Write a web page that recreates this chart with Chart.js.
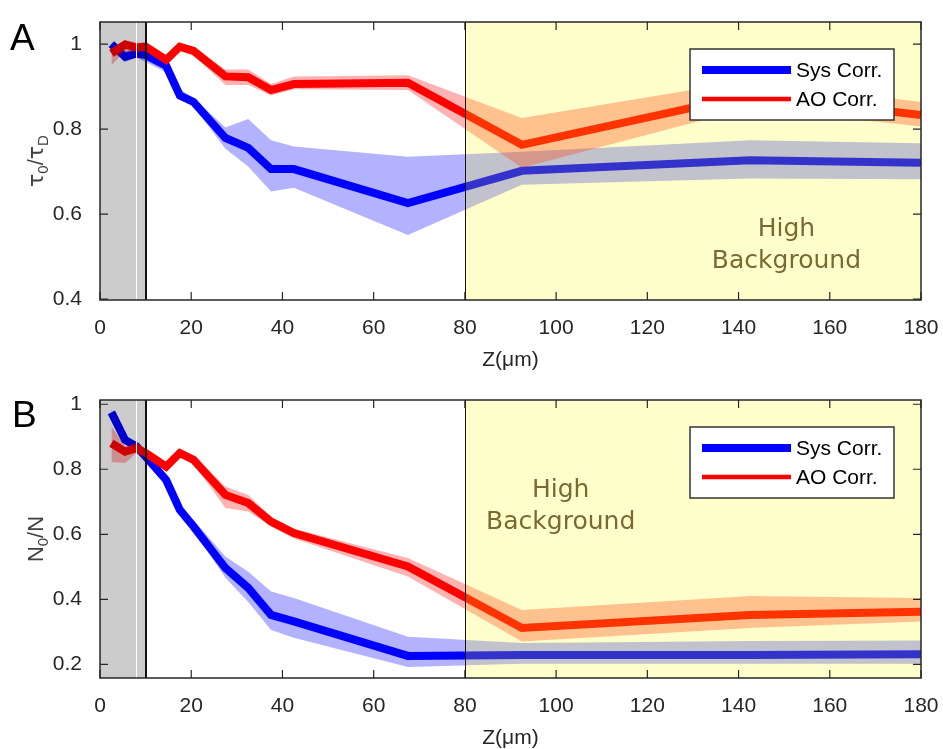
<!DOCTYPE html>
<html><head><meta charset="utf-8">
<script src="https://cdn.jsdelivr.net/npm/chart.js@4.4.1/dist/chart.umd.min.js"></script>
<style>
html,body{margin:0;padding:0;background:#fff;width:943px;height:749px;overflow:hidden}
.panel{position:absolute;left:0;width:943px}
#pA{top:0;height:375px}
#pB{top:375px;height:374px}
</style></head><body>
<div class="panel" id="pA"><canvas id="cA"></canvas></div>
<div class="panel" id="pB"><canvas id="cB"></canvas></div>
<script>
// ---- data ----
const depths = [2.5, 5.5, 8, 10, 14.5, 17.5, 20.5, 27.5, 32.5, 37.5, 42.5, 67.5, 92.5, 142.5, 180];

const sysA    = [1.0, 0.97, 0.978, 0.974, 0.949, 0.879, 0.864, 0.779, 0.756, 0.706, 0.706, 0.626, 0.702, 0.727, 0.721];
const sysAHi  = [1.005, 0.984, 0.989, 0.984, 0.96, 0.894, 0.874, 0.804, 0.824, 0.774, 0.759, 0.735, 0.747, 0.774, 0.767];
const sysALo  = [0.99, 0.958, 0.968, 0.958, 0.934, 0.869, 0.854, 0.754, 0.712, 0.653, 0.662, 0.551, 0.669, 0.684, 0.682];
const aoA     = [0.978, 0.999, 0.992, 0.994, 0.963, 0.994, 0.984, 0.924, 0.922, 0.892, 0.906, 0.909, 0.763, 0.88, 0.833];
const aoAHi   = [0.99, 1.01, 1.004, 1.004, 0.974, 1.0, 0.994, 0.94, 0.94, 0.906, 0.924, 0.927, 0.826, 0.915, 0.864];
const aoALo   = [0.95, 0.984, 0.98, 0.984, 0.954, 0.984, 0.974, 0.904, 0.904, 0.879, 0.894, 0.892, 0.709, 0.85, 0.806];

const sysB    = [0.975, 0.89, 0.87, 0.839, 0.767, 0.675, 0.624, 0.496, 0.435, 0.352, 0.332, 0.226, 0.229, 0.229, 0.231];
const sysBHi  = [0.985, 0.902, 0.882, 0.852, 0.777, 0.687, 0.644, 0.532, 0.485, 0.424, 0.404, 0.285, 0.266, 0.272, 0.273];
const sysBLo  = [0.96, 0.877, 0.862, 0.827, 0.757, 0.662, 0.612, 0.466, 0.392, 0.306, 0.282, 0.192, 0.202, 0.202, 0.202];
const aoB     = [0.88, 0.854, 0.865, 0.85, 0.808, 0.85, 0.829, 0.721, 0.696, 0.639, 0.604, 0.501, 0.312, 0.352, 0.362];
const aoBHi   = [0.932, 0.87, 0.885, 0.862, 0.822, 0.862, 0.842, 0.747, 0.721, 0.654, 0.617, 0.527, 0.367, 0.41, 0.404];
const aoBLo   = [0.822, 0.819, 0.85, 0.837, 0.792, 0.837, 0.817, 0.681, 0.67, 0.624, 0.587, 0.47, 0.27, 0.312, 0.332];

const xTicks = [0, 20, 40, 60, 80, 100, 120, 140, 160, 180];
const yTicksA = [0.4, 0.6, 0.8, 1];
const yTickLabelsA = ['0.4', '0.6', '0.8', '1'];
const yTicksB = [0.2, 0.4, 0.6, 0.8, 1];
const yTickLabelsB = ['0.2', '0.4', '0.6', '0.8', '1'];

const seriesLabels = ['Sys Corr.', 'AO Corr.'];
const xTitle = 'Z(\u03BCm)';
const shadeRange = [0, 10];      // low-depth grey region
const whiteMark = 8;
const highBgRange = [80, 180];   // high background region
const highBgText = ['High', 'Background'];

// ---- helpers ----
const pts = (ys) => depths.map((x, i) => ({x, y: ys[i]}));
const TICK_FONT = {family: "'Liberation Sans', Arial, sans-serif", size: 21};
const AX = '#262626';

function makeDatasets(sys, sysHi, sysLo, ao, aoHi, aoLo) {
  const base = {pointRadius: 0, tension: 0, showLine: true};
  return [
    {...base, data: pts(sysHi), borderWidth: 0, fill: '+1', backgroundColor: 'rgba(0,0,255,0.30)', order: 6},
    {...base, data: pts(sysLo), borderWidth: 0, fill: false, order: 6},
    {...base, label: seriesLabels[0], data: pts(sys), borderColor: '#0000ff', borderWidth: 8, fill: false, order: 5, borderJoinStyle: 'miter', legend: true},
    {...base, data: pts(aoHi), borderWidth: 0, fill: '+1', backgroundColor: 'rgba(255,0,0,0.30)', order: 4},
    {...base, data: pts(aoLo), borderWidth: 0, fill: false, order: 4},
    {...base, label: seriesLabels[1], data: pts(ao), borderColor: '#ff0000', borderWidth: 8, fill: false, order: 3, borderJoinStyle: 'miter', legend: true}
  ];
}

const decor = {
  id: 'decor',
  afterDatasetsDraw(chart, args, o) {
    const {ctx, chartArea: a, scales: {x, y}} = chart;
    ctx.save();
    ctx.beginPath(); ctx.rect(a.left, a.top, a.right - a.left, a.bottom - a.top); ctx.clip();
    let x0 = x.getPixelForValue(shadeRange[0]), x1 = x.getPixelForValue(shadeRange[1]);
    ctx.fillStyle = 'rgba(0,0,0,0.2)';
    ctx.fillRect(x0, a.top, x1 - x0, a.bottom - a.top);
    x0 = x.getPixelForValue(highBgRange[0]); x1 = x.getPixelForValue(highBgRange[1]);
    ctx.fillStyle = 'rgba(255,255,0,0.2)';
    ctx.fillRect(x0, a.top, x1 - x0, a.bottom - a.top);
    const vline = (v, col, w) => {
      const px = Math.round(x.getPixelForValue(v)) + (w % 2 ? 0.5 : 0);
      ctx.strokeStyle = col; ctx.lineWidth = w;
      ctx.beginPath(); ctx.moveTo(px, a.top); ctx.lineTo(px, a.bottom); ctx.stroke();
    };
    vline(whiteMark, '#ffffff', 1);
    vline(shadeRange[1], '#111111', 2);
    vline(highBgRange[0], '#111111', 1);
    ctx.fillStyle = '#7a6930';
    ctx.font = "25px 'DejaVu Sans', sans-serif";
    ctx.textAlign = 'center'; ctx.textBaseline = 'middle';
    const tx = x.getPixelForValue(o.textX);
    ctx.fillText(highBgText[0], tx, y.getPixelForValue(o.textY[0]));
    ctx.fillText(highBgText[1], tx, y.getPixelForValue(o.textY[1]));
    ctx.restore();
  },
  afterDraw(chart, args, o) {
    const {ctx, chartArea: a, scales: {x, y}} = chart;
    ctx.save();
    ctx.strokeStyle = AX; ctx.lineWidth = 1.5;
    ctx.strokeRect(a.left, a.top, a.right - a.left, a.bottom - a.top);
    const tl = 8;
    ctx.lineWidth = 1.2;
    ctx.beginPath();
    x.ticks.forEach(t => {
      const px = x.getPixelForValue(t.value);
      ctx.moveTo(px, a.bottom); ctx.lineTo(px, a.bottom - tl);
      ctx.moveTo(px, a.top); ctx.lineTo(px, a.top + tl);
    });
    y.ticks.forEach(t => {
      const py = y.getPixelForValue(t.value);
      ctx.moveTo(a.left, py); ctx.lineTo(a.left + tl, py);
      ctx.moveTo(a.right, py); ctx.lineTo(a.right - tl, py);
    });
    ctx.stroke();
    // legend
    const lw = 204, lh = 71;
    const lx = a.right - 27 - lw, ly = a.top + 27;
    ctx.fillStyle = '#ffffff';
    ctx.fillRect(lx, ly, lw, lh);
    ctx.strokeStyle = '#333333'; ctx.lineWidth = 1.5;
    ctx.strokeRect(lx, ly, lw, lh);
    const items = chart.data.datasets.filter(d => d.legend);
    const widths = [8, 4.5];
    ctx.font = "21px 'Liberation Sans', Arial, sans-serif";
    ctx.textAlign = 'left'; ctx.textBaseline = 'middle';
    items.forEach((d, i) => {
      const yy = ly + 21 + i * 29;
      ctx.strokeStyle = d.borderColor; ctx.lineWidth = widths[i];
      ctx.beginPath(); ctx.moveTo(lx + 12, yy); ctx.lineTo(lx + 101, yy); ctx.stroke();
      ctx.fillStyle = '#000';
      ctx.fillText(d.label, lx + 106, yy + 1);
    });
    // y axis label with subscripts
    const cy = (a.top + a.bottom) / 2;
    ctx.translate(o.yLabelX, cy);
    ctx.rotate(-Math.PI / 2);
    ctx.fillStyle = '#404040'; ctx.textBaseline = 'alphabetic'; ctx.textAlign = 'left';
    let total = 0;
    o.yLabel.forEach(p => { ctx.font = p.f; p.w = ctx.measureText(p.t).width; total += p.w; });
    let cx = -total / 2;
    o.yLabel.forEach(p => { ctx.font = p.f; ctx.fillText(p.t, cx, 8 + (p.dy || 0)); cx += p.w; });
    ctx.restore();
    ctx.save();
    ctx.fillStyle = '#000';
    ctx.font = "37px 'Liberation Sans', Arial, sans-serif";
    ctx.textAlign = 'left'; ctx.textBaseline = 'alphabetic';
    ctx.fillText(o.letter, o.letterX, o.letterY);
    ctx.restore();
  }
};

const BIG = "22px 'Liberation Sans', Arial, sans-serif";
const SUB = "15px 'Liberation Sans', Arial, sans-serif";
const GRK = "22px 'DejaVu Sans', sans-serif";

function makeChart(id, ds, yMin, yMax, yTicks, yLabels, topPad, xH, titlePadBottom, deco) {
  return new Chart(document.getElementById(id), {
    type: 'line',
    data: {datasets: ds},
    plugins: [decor],
    options: {
      responsive: true, maintainAspectRatio: false, animation: false, devicePixelRatio: 1,
      layout: {padding: {top: topPad, right: 22, left: 0, bottom: 0}},
      plugins: {legend: {display: false}, tooltip: {enabled: false}, decor: deco},
      scales: {
        x: {
          type: 'linear', min: 0, max: 180,
          afterBuildTicks: s => { s.ticks = xTicks.map(v => ({value: v})); },
          afterFit: s => { s.height = xH; s.paddingLeft = 0; s.paddingRight = 0; },
          grid: {display: false}, border: {display: false},
          ticks: {font: TICK_FONT, color: AX, padding: 8, maxRotation: 0, autoSkip: false, callback: v => String(v)},
          title: {display: true, text: xTitle, font: TICK_FONT, color: AX, padding: {top: 0, bottom: titlePadBottom}}
        },
        y: {
          type: 'linear', min: yMin, max: yMax,
          afterBuildTicks: s => { s.ticks = yTicks.map(v => ({value: v})); },
          afterFit: s => { s.width = 100; s.paddingTop = 0; s.paddingBottom = 0; },
          grid: {display: false}, border: {display: false},
          ticks: {font: TICK_FONT, color: AX, padding: 10, autoSkip: false, callback: v => yLabels[yTicks.indexOf(v)]}
        }
      }
    }
  });
}

makeChart('cA', makeDatasets(sysA, sysAHi, sysALo, aoA, aoAHi, aoALo), 0.398, 1.052, yTicksA, yTickLabelsA, 22, 75, 2, {
  textX: 150.5, textY: [0.565, 0.488],
  letter: 'A', letterX: 10, letterY: 50, yLabelX: 35,
  yLabel: [{t: '\u03C4', f: GRK}, {t: '0', f: SUB, dy: 5}, {t: '/', f: BIG}, {t: '\u03C4', f: GRK}, {t: 'D', f: SUB, dy: 5}]
});
makeChart('cB', makeDatasets(sysB, sysBHi, sysBLo, aoB, aoBHi, aoBLo), 0.158, 1.013, yTicksB, yTickLabelsB, 25, 71, -2, {
  textX: 101, textY: [0.736, 0.636],
  letter: 'B', letterX: 12, letterY: 52, yLabelX: 35,
  yLabel: [{t: 'N', f: BIG}, {t: '0', f: SUB, dy: 5}, {t: '/N', f: BIG}]
});
</script>
</body></html>
